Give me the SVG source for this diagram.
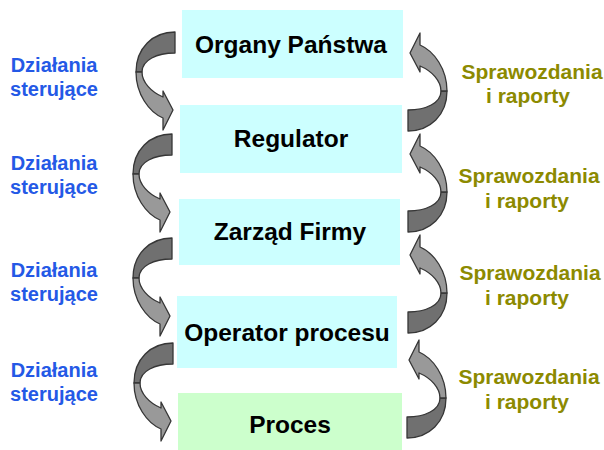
<svg xmlns="http://www.w3.org/2000/svg" xmlns:xlink="http://www.w3.org/1999/xlink" width="604" height="450" viewBox="0 0 604 450">
  <style>
    .box { fill: #ccffff; }
    .boxg { fill: #ccffcc; }
    .nt { font-family: "Liberation Sans", Arial, sans-serif; font-weight: bold; font-size: 24.5px; fill: #000; text-anchor: middle; }
    .lt { font-family: "Liberation Sans", Arial, sans-serif; font-weight: bold; font-size: 20px; fill: #2459e6; text-anchor: middle; }
    .rt { font-family: "Liberation Sans", Arial, sans-serif; font-weight: bold; font-size: 21px; fill: #8c8a00; text-anchor: middle; }
    .dk { fill: #707070; stroke: #363636; stroke-width: 1.3; stroke-linejoin: round; }
    .lg { fill: #999999; stroke: #363636; stroke-width: 1.3; stroke-linejoin: round; }
  </style>
  <defs>
    <g id="carrow">
      <path class="dk" d="M0,0 C-22,0 -39,16 -39,40 L-33,40 C-33,28 -18,21 0,21 Z"/>
      <path class="lg" d="M-39,40 C-39,62 -26,80 -12,86 L-12,98 L-2,78 L-12,59 L-12,65 C-24,60 -33,50 -33,40 Z"/>
    </g>
  </defs>
  <rect width="604" height="450" fill="#ffffff"/>

  <g id="node-organy">
    <rect class="box" x="182" y="10" width="221" height="68"/>
    <text class="nt" x="291" y="53">Organy Państwa</text>
  </g>
  <g id="node-regulator">
    <rect class="box" x="180" y="105" width="222" height="68"/>
    <text class="nt" x="291" y="147">Regulator</text>
  </g>
  <g id="node-zarzad">
    <rect class="box" x="179" y="199" width="221" height="66"/>
    <text class="nt" x="290" y="240">Zarząd Firmy</text>
  </g>
  <g id="node-operator">
    <rect class="box" x="177" y="296" width="220" height="72"/>
    <text class="nt" x="287" y="341">Operator procesu</text>
  </g>
  <g id="node-proces">
    <rect class="boxg" x="178" y="393" width="224" height="57"/>
    <text class="nt" x="290" y="433">Proces</text>
  </g>

  <g id="connectors">
    <use xlink:href="#carrow" href="#carrow" transform="translate(175,32)"/>
    <use xlink:href="#carrow" href="#carrow" transform="translate(172,134)"/>
    <use xlink:href="#carrow" href="#carrow" transform="translate(172,238)"/>
    <use xlink:href="#carrow" href="#carrow" transform="translate(173,343)"/>
    <use xlink:href="#carrow" href="#carrow" transform="translate(408,131) rotate(180)"/>
    <use xlink:href="#carrow" href="#carrow" transform="translate(408,232) rotate(180)"/>
    <use xlink:href="#carrow" href="#carrow" transform="translate(408,333) rotate(180)"/>
    <use xlink:href="#carrow" href="#carrow" transform="translate(407,438) rotate(180)"/>
  </g>

  <g id="labels-left">
    <text class="lt" x="54" y="72">Działania</text>
    <text class="lt" x="54" y="96">sterujące</text>
    <text class="lt" x="54" y="170">Działania</text>
    <text class="lt" x="54" y="194">sterujące</text>
    <text class="lt" x="54" y="277">Działania</text>
    <text class="lt" x="54" y="301">sterujące</text>
    <text class="lt" x="54" y="377">Działania</text>
    <text class="lt" x="54" y="401">sterujące</text>
  </g>
  <g id="labels-right">
    <text class="rt" x="532" y="79">Sprawozdania</text>
    <text class="rt" x="528" y="103">i raporty</text>
    <text class="rt" x="529" y="183">Sprawozdania</text>
    <text class="rt" x="527" y="208">i raporty</text>
    <text class="rt" x="530" y="280">Sprawozdania</text>
    <text class="rt" x="527" y="305">i raporty</text>
    <text class="rt" x="529" y="384">Sprawozdania</text>
    <text class="rt" x="527" y="409">i raporty</text>
  </g>
</svg>
